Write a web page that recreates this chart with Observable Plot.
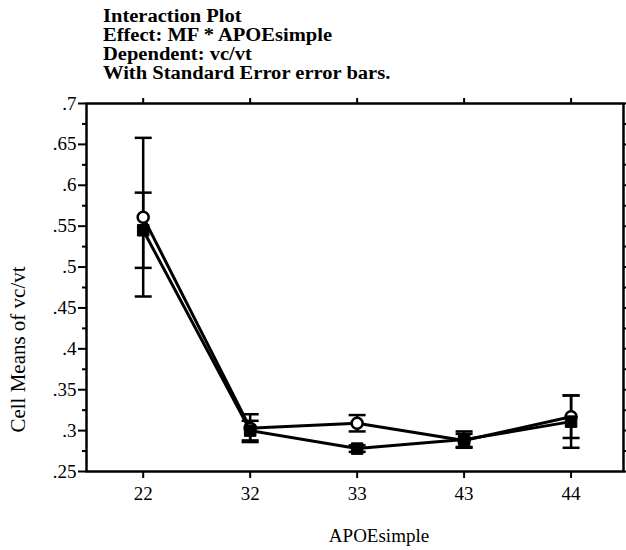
<!DOCTYPE html>
<html>
<head>
<meta charset="utf-8">
<script src="https://cdn.jsdelivr.net/npm/d3@7"></script>
<script src="https://cdn.jsdelivr.net/npm/@observablehq/plot@0.6"></script>
<style>
  html, body { margin: 0; padding: 0; background: #fff; }
  #wrap { position: relative; width: 626px; height: 550px; overflow: hidden; }
  #title { position: absolute; left: 103px; top: 7px; font-family: "Liberation Serif", "Times New Roman", serif; font-weight: bold; font-size: 18.5px; line-height: 19px; color: #000; transform: scaleX(1.11); transform-origin: 0 0; white-space: nowrap; }
  #chart { position: absolute; left: 0; top: 0; }
</style>
</head>
<body>
<div id="wrap">
  <div id="chart"></div>
  <div id="title">
    <div>Interaction Plot</div>
    <div>Effect: MF * APOEsimple</div>
    <div>Dependent: vc/vt</div>
    <div>With Standard Error error bars.</div>
  </div>
</div>
<script>
// ---- data ----
const categories = ["22", "32", "33", "43", "44"];
const meanOpen   = [0.561, 0.303, 0.309, 0.288, 0.317];   // open-circle series
const seOpen     = [0.097, 0.017, 0.010, 0.008, 0.026];
const meanFilled = [0.545, 0.300, 0.278, 0.289, 0.311];   // filled-square series
const seFilled   = [0.046, 0.012, 0.004, 0.010, 0.032];
const yTicks      = [0.25, 0.3, 0.35, 0.4, 0.45, 0.5, 0.55, 0.6, 0.65, 0.7];
const yMinorTicks = [0.275, 0.325, 0.375, 0.425, 0.475, 0.525, 0.575, 0.625, 0.675];
const yRightTicks = yTicks.concat(yMinorTicks);
const xLabel = "APOEsimple";
const yLabel = "Cell Means of vc/vt";

const openRows = categories.map((c, i) => ({i, cat: c, mean: meanOpen[i], se: seOpen[i]}));
const filledRows = categories.map((c, i) => ({i, cat: c, mean: meanFilled[i], se: seFilled[i]}));
const allRows = openRows.concat(filledRows);
const idx = categories.map((c, i) => i);

const capSymbol = {
  draw(context, size) {
    const h = Math.sqrt(size / Math.PI);
    context.moveTo(-h, 0);
    context.lineTo(h, 0);
  }
};

const fmt = v => d3.format(".3~f")(v).replace(/^0/, "");

const font = "Liberation Serif, Times New Roman, serif";

const chart = Plot.plot({
  width: 626,
  height: 550,
  marginLeft: 86,
  marginRight: 3,
  marginTop: 103,
  marginBottom: 79,
  style: {fontFamily: font, fontSize: "19px", color: "#000", background: "#fff", overflow: "visible"},
  x: {type: "linear", domain: [-0.53, 4.49]},
  y: {domain: [0.25, 0.7]},
  marks: [
    // axes
    Plot.axisY({ticks: yTicks, tickSize: 8, tickPadding: 2, tickFormat: fmt, strokeWidth: 2, label: null, fontSize: 19}),
    Plot.axisY({ticks: yMinorTicks, tickSize: 4, tickFormat: () => "", strokeWidth: 2, label: null}),
    Plot.axisY({anchor: "right", ticks: yRightTicks, tickSize: 4, tickFormat: () => "", strokeWidth: 2, label: null}),
    Plot.axisX({anchor: "top", ticks: idx, tickSize: 6, tickFormat: () => "", strokeWidth: 2, label: null}),
    Plot.axisX({anchor: "bottom", ticks: idx, tickSize: 7, tickPadding: 8, tickFormat: i => categories[i], strokeWidth: 2, label: null, fontSize: 19}),
    Plot.frame({stroke: "#000", strokeWidth: 2.5}),
    // axis titles
    Plot.text([xLabel], {frameAnchor: "bottom", text: d => d, dx: 24, dy: 70, fontSize: 19, fill: "#000"}),
    Plot.text([yLabel], {frameAnchor: "left", textAnchor: "middle", text: d => d, rotate: -90, dx: -68, dy: 62, fontSize: 21, fill: "#000"}),
    // error bars
    Plot.ruleX(allRows, {x: "i", y1: d => d.mean - d.se, y2: d => d.mean + d.se, stroke: "#000", strokeWidth: 2.5}),
    Plot.dot(allRows, {x: "i", y: d => d.mean + d.se, symbol: capSymbol, r: 8.5, fill: "none", stroke: "#000", strokeWidth: 2.5}),
    Plot.dot(allRows, {x: "i", y: d => d.mean - d.se, symbol: capSymbol, r: 8.5, fill: "none", stroke: "#000", strokeWidth: 2.5}),
    // lines
    Plot.line(openRows, {x: "i", y: "mean", stroke: "#000", strokeWidth: 3}),
    Plot.line(filledRows, {x: "i", y: "mean", stroke: "#000", strokeWidth: 3}),
    // markers
    Plot.dot(openRows, {x: "i", y: "mean", r: 5.5, fill: "#fff", stroke: "#000", strokeWidth: 2.5}),
    Plot.dot(filledRows, {x: "i", y: "mean", symbol: "square", r: 6.5, fill: "#000", stroke: "#000", strokeWidth: 1})
  ]
});
document.getElementById("chart").appendChild(chart);
</script>
</body>
</html>
